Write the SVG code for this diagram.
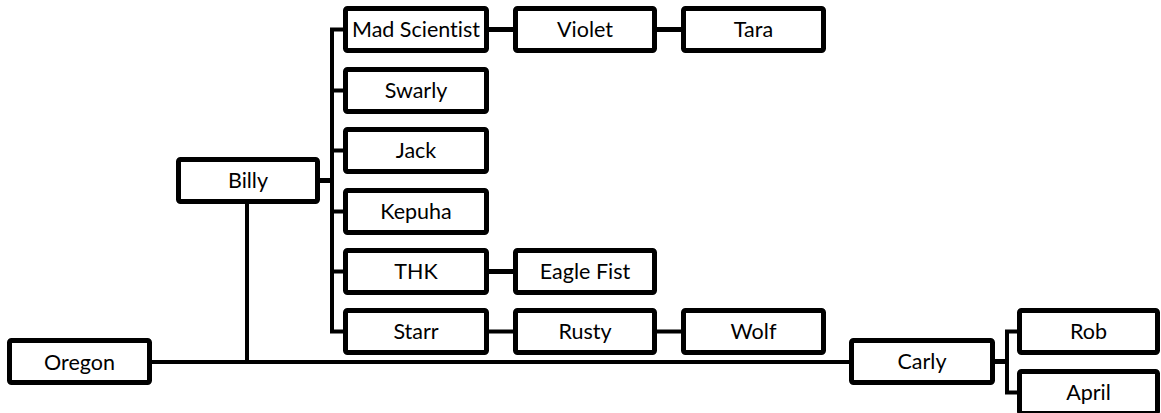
<svg xmlns="http://www.w3.org/2000/svg" width="1161" height="413" viewBox="0 0 1161 413">
  <style>
    .box { fill: #ffffff; stroke: #000000; stroke-width: 5; }
    .lbl { font-family: "Lato", "Liberation Sans", sans-serif; font-size: 21.5px; fill: #000000; text-anchor: middle; font-variant-ligatures: none; font-feature-settings: "liga" 0, "dlig" 0; }
    .c { fill: none; stroke: #000000; stroke-width: 4; }
    .t { fill: none; stroke: #000000; stroke-width: 5; }
  </style>
  <rect width="1161" height="413" fill="#ffffff"/>
  <g id="connectors">
    <path class="c" d="M152,362 H849"/>
    <path class="c" d="M247,204 V362"/>
    <path class="t" d="M320,180.5 H332"/>
    <path class="c" d="M343,29.5 H332 V331.5 H343 M332,90.5 H343 M332,150.5 H343 M332,211.5 H343 M332,271.5 H343"/>
    <path class="t" d="M489,29.5 H513 M657,29.5 H681"/>
    <path class="t" d="M489,271.5 H513"/>
    <path class="c" d="M489,331.5 H513 M657,331.5 H681"/>
    <path class="t" d="M995,361.5 H1007"/>
    <path class="c" d="M1017,331.5 H1007 V392.5 H1017"/>
  </g>
  <g id="oregon"><rect class="box" x="9.5" y="340.5" width="140" height="42" rx="2"/><text class="lbl" x="79.5" y="369.5">Oregon</text></g>
  <g id="billy"><rect class="box" x="178.5" y="159.5" width="139" height="42" rx="2"/><text class="lbl" x="248" y="188">Billy</text></g>
  <g id="mad-scientist"><rect class="box" x="345.5" y="8.5" width="141" height="42" rx="2"/><text class="lbl" x="416" y="37">Mad Scientist</text></g>
  <g id="violet"><rect class="box" x="515.5" y="8.5" width="139" height="42" rx="2"/><text class="lbl" x="585" y="37">Violet</text></g>
  <g id="tara"><rect class="box" x="683.5" y="8.5" width="140" height="42" rx="2"/><text class="lbl" x="753.5" y="37">Tara</text></g>
  <g id="swarly"><rect class="box" x="345.5" y="69.5" width="141" height="42" rx="2"/><text class="lbl" x="416" y="98">Swarly</text></g>
  <g id="jack"><rect class="box" x="345.5" y="129.5" width="141" height="42" rx="2"/><text class="lbl" x="416" y="158">Jack</text></g>
  <g id="kepuha"><rect class="box" x="345.5" y="190.5" width="141" height="42" rx="2"/><text class="lbl" x="416" y="219">Kepuha</text></g>
  <g id="thk"><rect class="box" x="345.5" y="250.5" width="141" height="42" rx="2"/><text class="lbl" x="416" y="279">THK</text></g>
  <g id="eagle-fist"><rect class="box" x="515.5" y="250.5" width="139" height="42" rx="2"/><text class="lbl" x="585" y="279">Eagle Fist</text></g>
  <g id="starr"><rect class="box" x="345.5" y="310.5" width="141" height="42" rx="2"/><text class="lbl" x="416" y="339">Starr</text></g>
  <g id="rusty"><rect class="box" x="515.5" y="310.5" width="139" height="42" rx="2"/><text class="lbl" x="585" y="339">Rusty</text></g>
  <g id="wolf"><rect class="box" x="683.5" y="310.5" width="140" height="42" rx="2"/><text class="lbl" x="753.5" y="339">Wolf</text></g>
  <g id="carly"><rect class="box" x="851.5" y="340.5" width="141" height="42" rx="2"/><text class="lbl" x="922" y="369">Carly</text></g>
  <g id="rob"><rect class="box" x="1019.5" y="310.5" width="138" height="42" rx="2"/><text class="lbl" x="1088.5" y="339">Rob</text></g>
  <g id="april"><rect class="box" x="1019.5" y="371.5" width="138" height="42" rx="2"/><text class="lbl" x="1088.5" y="400">April</text></g>
</svg>
